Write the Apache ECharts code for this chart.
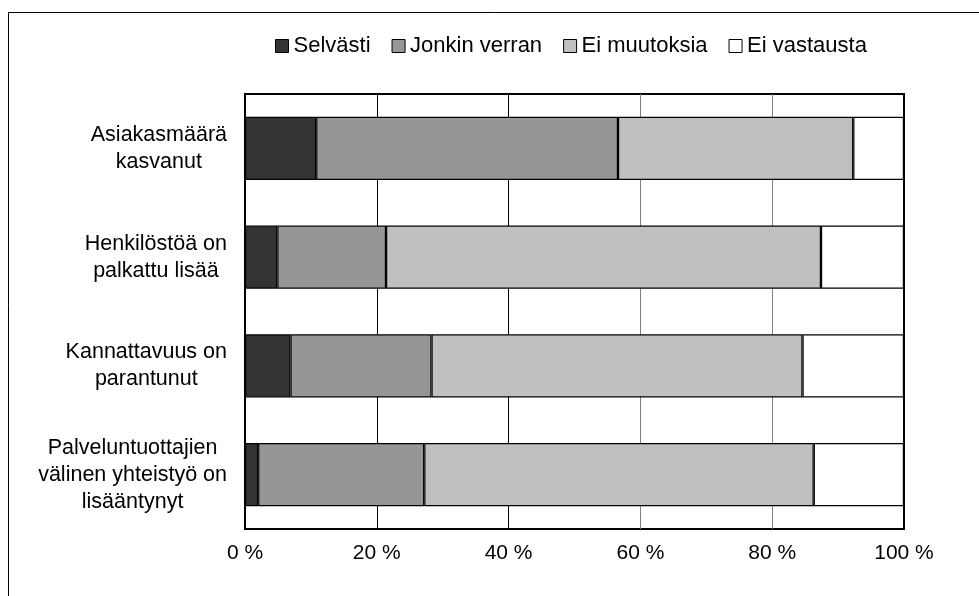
<!DOCTYPE html>
<html>
<head>
<meta charset="utf-8">
<style>
  html, body { margin: 0; padding: 0; background: #fff; }
  #chart { width: 979px; height: 596px; }
</style>
<script src="https://cdn.jsdelivr.net/npm/echarts@6/dist/echarts.min.js"></script>
</head>
<body>
<div id="chart"></div>
<script>
// Statement categories (top to bottom)
var categories = [
  'Asiakasmäärä\nkasvanut',
  'Henkilöstöä on\npalkattu lisää',
  'Kannattavuus on\nparantunut',
  'Palveluntuottajien\nvälinen yhteistyö on\nlisääntynyt'
];

// Share of answers, %
var selvasti = [10.8, 4.9, 6.9, 2.0];
var jonkinVerran = [45.8, 16.5, 21.4, 25.2];
var eiMuutoksia = [35.7, 66.0, 56.3, 59.1];
var eiVastausta = [7.7, 12.6, 15.4, 13.7];

var seriesNames = ['Selvästi', 'Jonkin verran', 'Ei muutoksia', 'Ei vastausta'];
var xTicks = [0, 20, 40, 60, 80, 100];

var fills = ['#333333', '#969696', '#c0c0c0', '#ffffff'];
var FONT = '"Liberation Sans", Arial, sans-serif';

var chart = echarts.init(document.getElementById('chart'), null, { renderer: 'canvas' });

function barSeries(name, data, color) {
  return {
    name: name,
    type: 'bar',
    stack: 'total',
    data: data,
    barCategoryGap: '42%',
    itemStyle: { color: color, borderColor: '#000', borderWidth: 1.2 },
    emphasis: { disabled: true },
    animation: false
  };
}

chart.setOption({
  animation: false,
  backgroundColor: '#fff',
  textStyle: { fontFamily: FONT, color: '#000' },
  graphic: [{
    type: 'rect',
    shape: { x: 8.5, y: 12.5, width: 1000, height: 1000 },
    style: { fill: 'none', stroke: '#000', lineWidth: 1 },
    silent: true,
    z: -1
  }],
  legend: {
    data: seriesNames,
    top: 30,
    left: 270,
    icon: 'rect',
    itemWidth: 13,
    itemHeight: 13,
    itemGap: 21,
    itemStyle: { borderColor: '#000', borderWidth: 1 },
    textStyle: { fontFamily: FONT, fontSize: 22, color: '#000' },
    selectedMode: false
  },
  grid: {
    left: 245,
    right: 75,
    top: 94,
    bottom: 67,
    show: true,
    borderColor: '#000',
    borderWidth: 2,
    containLabel: false
  },
  xAxis: {
    type: 'value',
    min: xTicks[0],
    max: xTicks[xTicks.length - 1],
    interval: 20,
    axisLine: { show: false },
    axisTick: { show: false },
    axisLabel: {
      margin: 14,
      fontFamily: FONT,
      fontSize: 21,
      color: '#000',
      formatter: function (v) { return v + ' %'; }
    },
    splitLine: {
      show: true,
      lineStyle: { color: ['#000', '#000', '#000', '#808080', '#808080', '#000'], width: 1 }
    }
  },
  yAxis: {
    type: 'category',
    inverse: true,
    data: categories,
    axisLine: { show: false },
    axisTick: { show: false },
    axisLabel: {
      margin: 18,
      formatter: function (v) { return '{c|' + v + '}'; },
      rich: {
        c: {
          align: 'center',
          fontFamily: FONT,
          fontSize: 21.5,
          lineHeight: 27,
          color: '#000'
        }
      }
    }
  },
  series: [
    barSeries(seriesNames[0], selvasti, fills[0]),
    barSeries(seriesNames[1], jonkinVerran, fills[1]),
    barSeries(seriesNames[2], eiMuutoksia, fills[2]),
    barSeries(seriesNames[3], eiVastausta, fills[3])
  ]
});
</script>
</body>
</html>
